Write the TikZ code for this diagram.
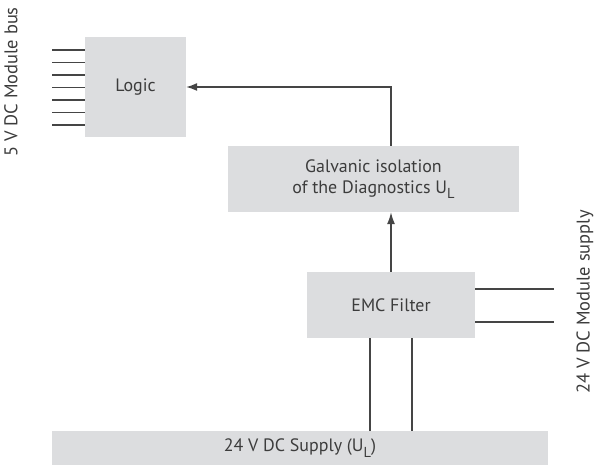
\documentclass[tikz,border=0pt]{standalone}
\usepackage{fontspec}
\setmainfont{PT Sans}
\usepackage{tikz}
\usetikzlibrary{arrows.meta}

\definecolor{boxgray}{HTML}{DCDDDF}
\definecolor{linegray}{HTML}{454545}
\definecolor{textgray}{HTML}{3C3C3C}

\newcommand{\subL}{\raisebox{-0.3em}{\fontsize{14.5}{15}\selectfont L}}

\tikzset{
  block/.style={fill=boxgray, text=textgray, inner sep=0pt, align=center,
    font=\fontsize{18}{21}\selectfont},
  wire/.style={draw=linegray, line width=1.3pt},
  sidelabel/.style={text=textgray, rotate=90, font=\fontsize{18.5}{21}\selectfont}
}

\begin{document}
\begin{tikzpicture}[x=1bp, y=-1bp]
\useasboundingbox (0,0) rectangle (595,465);

% Blocks
\node[block, minimum width=101bp, minimum height=100bp] (logic) at (135.5,87) {Logic};
\node[block, minimum width=291bp, minimum height=66bp] (galv) at (373.5,179)
  {Galvanic isolation\\of the Diagnostics U\subL};
\node[block, minimum width=168bp, minimum height=66bp] (emc) at (391,305) {EMC Filter};
\node[block, minimum width=496bp, minimum height=34bp] (supply) at (300,448)
  {24 V DC Supply (U\subL)};

% Labels
\node[sidelabel] (buslabel) at (11,82) {5 V DC Module bus};
\node[sidelabel] (modlabel) at (585,302) {24 V DC Module supply};

% Module bus lines
\foreach \i in {0,...,6}
  \coordinate (bus\i) at (52,{50+12.5*\i});
\foreach \i in {0,...,6}
  \draw[wire] (bus\i) -- (bus\i -| logic.west);

% Module supply lines
\coordinate (sup1) at (554,289);
\coordinate (sup2) at (554,322);
\draw[wire] (sup1 -| emc.east) -- (sup1);
\draw[wire] (sup2 -| emc.east) -- (sup2);

% Supply lines
\coordinate (in1) at (370,338);
\coordinate (in2) at (412,338);
\draw[wire] (in1) -- (in1 |- supply.north);
\draw[wire] (in2) -- (in2 |- supply.north);

% Arrows
\draw[wire, -{Latex[length=12bp, width=8bp]}] (emc.north) -- (emc.north |- galv.south);
\draw[wire, -{Latex[length=11bp, width=8bp]}] (emc.north |- galv.north) |- (logic.east);

\end{tikzpicture}
\end{document}
